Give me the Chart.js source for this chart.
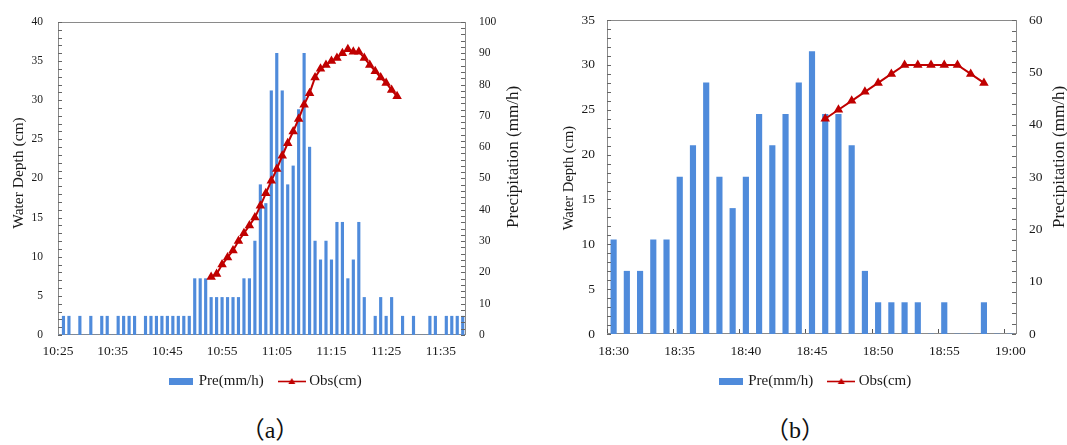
<!DOCTYPE html>
<html>
<head>
<meta charset="utf-8">
<script src="https://cdn.jsdelivr.net/npm/chart.js@4.4.0/dist/chart.umd.min.js"></script>
<style>
  html, body { margin: 0; padding: 0; background: #fff; }
  #page { position: relative; width: 1067px; height: 445px; overflow: hidden; }
  .box { position: absolute; top: 0; height: 399px; }
  #boxA { left: 0; width: 533px; }
  #boxB { left: 533px; width: 534px; }
  .cap { position: absolute; top: 414px; width: 90px; text-align: center; color: #111;
         font: 24px "Liberation Serif", "Noto Sans CJK SC", serif; line-height: 32px; }
</style>
</head>
<body>
<div id="page">
  <div class="box" id="boxA"><canvas id="chartA"></canvas></div>
  <div class="box" id="boxB"><canvas id="chartB"></canvas></div>
  <div class="cap" style="left:225px">（a）</div>
  <div class="cap" style="left:750px">（b）</div>
</div>
<script>
// ---- chart (a) ----
const timesA = [
  "10:25","10:26","10:27","10:28","10:29","10:30","10:31","10:32","10:33","10:34",
  "10:35","10:36","10:37","10:38","10:39","10:40","10:41","10:42","10:43","10:44",
  "10:45","10:46","10:47","10:48","10:49","10:50","10:51","10:52","10:53","10:54",
  "10:55","10:56","10:57","10:58","10:59","11:00","11:01","11:02","11:03","11:04",
  "11:05","11:06","11:07","11:08","11:09","11:10","11:11","11:12","11:13","11:14",
  "11:15","11:16","11:17","11:18","11:19","11:20","11:21","11:22","11:23","11:24",
  "11:25","11:26","11:27","11:28","11:29","11:30","11:31","11:32","11:33","11:34",
  "11:35","11:36","11:37","11:38","11:39"
];
const preA = [
  0, 6, 6, 0, 6, 0, 6, 0, 6, 6,
  0, 6, 6, 6, 6, 0, 6, 6, 6, 6,
  6, 6, 6, 6, 6, 18, 18, 18, 12, 12,
  12, 12, 12, 12, 18, 18, 30, 48, 42, 78,
  90, 78, 48, 54, 72, 90, 60, 30, 24, 30,
  24, 36, 36, 18, 24, 36, 12, 0, 6, 12,
  6, 12, 0, 6, 0, 6, 0, 0, 6, 6,
  0, 6, 6, 6, 6
];
const obsA = [
  null, null, null, null, null, null, null, null, null, null,
  null, null, null, null, null, null, null, null, null, null,
  null, null, null, null, null, null, null, null, 7.4, 7.8,
  9.0, 9.9, 10.8, 12.0, 13.0, 14.0, 15.0, 16.5, 18.1, 19.7,
  21.2, 22.9, 24.5, 26.0, 27.6, 29.4, 30.9, 32.9, 34.0, 34.5,
  35.0, 35.4, 36.0, 36.5, 36.2, 36.2, 35.4, 34.5, 33.7, 32.9,
  32.2, 31.3, 30.5, null, null, null, null, null, null, null,
  null, null, null, null, null
];
const ticksA = ["10:25", "10:35", "10:45", "10:55", "11:05", "11:15", "11:25", "11:35"];
const rangeA = ["10:25", "11:39:36"];

// ---- chart (b) ----
const timesB = [
  "18:30","18:31","18:32","18:33","18:34","18:35","18:36","18:37","18:38","18:39",
  "18:40","18:41","18:42","18:43","18:44","18:45","18:46","18:47","18:48","18:49",
  "18:50","18:51","18:52","18:53","18:54","18:55","18:56","18:57","18:58","18:59",
  "19:00"
];
const preB = [
  18, 12, 12, 18, 18, 30, 36, 48, 30, 24,
  30, 42, 36, 42, 48, 54, 42, 42, 36, 12,
  6, 6, 6, 6, 0, 6, 0, 0, 6, 0,
  0
];
const obsB = [
  null, null, null, null, null, null, null, null, null, null,
  null, null, null, null, null, null, 24, 25, 26, 27,
  28, 29, 30, 30, 30, 30, 30, 29, 28, null,
  null
];
const ticksB = ["18:30", "18:35", "18:40", "18:45", "18:50", "18:55", "19:00"];

Chart.defaults.font.family = '"Liberation Serif", "Times New Roman", serif';
Chart.defaults.color = "#1a1a1a";
Chart.defaults.animation = false;

const BAR = "#4f8bdb";
const RED = "#c00000";

function toMin(t) {
  const p = t.split(":").map(Number);
  return p[0] * 60 + p[1] + (p[2] || 0) / 60;
}
function fmt(v) {
  const h = Math.floor(v / 60), m = Math.round(v % 60);
  return h + ":" + String(m).padStart(2, "0");
}

// legend icons: blue box and red line with a triangle
function icon(kind) {
  const c = document.createElement("canvas");
  const g = c.getContext("2d");
  if (kind === "bar") {
    c.width = 24; c.height = 9;
    g.fillStyle = BAR;
    g.fillRect(0, 1, 24, 7);
  } else {
    c.width = 28; c.height = 9;
    g.strokeStyle = RED;
    g.lineWidth = 1.6;
    g.beginPath(); g.moveTo(0, 4.5); g.lineTo(28, 4.5); g.stroke();
    g.fillStyle = RED;
    g.beginPath(); g.moveTo(14, 1); g.lineTo(17.5, 7); g.lineTo(10.5, 7); g.closePath(); g.fill();
  }
  return c;
}
const icons = { bar: icon("bar"), line: icon("line") };

// frame, inward tick marks and axis titles reading upwards
const frame = {
  id: "frame",
  beforeDatasetsDraw(chart) {
    const { ctx, chartArea: a } = chart;
    ctx.save();
    ctx.strokeStyle = "#8a8a8a";
    ctx.lineWidth = 1;
    ctx.strokeRect(Math.round(a.left) + 0.5, Math.round(a.top) + 0.5,
                   Math.round(a.width) - 1, Math.round(a.height) - 1);
    ctx.restore();
  },
  afterDatasetsDraw(chart, args, opts) {
    const { ctx, chartArea: a } = chart;
    ctx.save();
    ctx.strokeStyle = "#555";
    ctx.lineWidth = 1;
    if (opts.xTicks) {
      const sx = chart.scales.x;
      const yb = Math.round(a.bottom) - 1;
      sx.ticks.forEach(t => {
        if (!opts.xTicks.includes(sx.getLabelForValue(t.value))) return;
        const x = Math.round(sx.getPixelForValue(t.value - 0.5)) + 0.5;
        ctx.beginPath(); ctx.moveTo(x, yb); ctx.lineTo(x, yb - 4); ctx.stroke();
      });
    }
    ctx.restore();
    ["yL", "yR"].forEach(id => {
      const s = chart.scales[id];
      const left = s.position === "left";
      const x0 = left ? Math.round(a.left) : Math.round(a.right) - 1;
      ctx.save();
      ctx.strokeStyle = "#666";
      ctx.lineWidth = 1;
      s.ticks.forEach((t, i) => {
        const y = Math.round(s.getPixelForTick(i)) + 0.5;
        ctx.beginPath();
        ctx.moveTo(x0, y);
        ctx.lineTo(x0 + (left ? 4 : -4), y);
        ctx.stroke();
      });
      const tt = s.options.title;
      const pos = opts[id];
      ctx.font = tt.font.size + "px " + Chart.defaults.font.family;
      ctx.fillStyle = "#1a1a1a";
      ctx.textAlign = "center";
      ctx.textBaseline = "middle";
      ctx.translate(pos[0], pos[1]);
      ctx.rotate(-Math.PI / 2);
      ctx.fillText(tt.text, 0, 0);
      ctx.restore();
    });
  }
};

function legendOpts() {
  return {
    position: "bottom",
    labels: {
      usePointStyle: true,
      pointStyleWidth: 20,
      padding: 18,
      font: { size: 15 },
      color: "#1a1a1a",
      sort: (a, b) => a.datasetIndex - b.datasetIndex,
      generateLabels(chart) {
        const items = Chart.defaults.plugins.legend.labels.generateLabels(chart);
        items.forEach(it => { it.pointStyle = icons[chart.data.datasets[it.datasetIndex].type]; });
        return items;
      }
    }
  };
}

function yAxis(pos, max, step, every, title, size, tsize, pad, width) {
  return {
    position: pos,
    min: 0,
    max: max,
    grid: { display: false, drawTicks: false },
    border: { display: false },
    ticks: {
      stepSize: step,
      autoSkip: false,
      padding: pad,
      font: { size: size },
      callback: v => (v % every === 0 ? v : "")
    },
    title: { display: false, text: title, font: { size: tsize } },
    afterFit: s => { s.width = width; }
  };
}

new Chart(document.getElementById("chartA"), {
  type: "bar",
  data: {
    datasets: [
      {
        type: "bar",
        label: "Pre(mm/h)",
        data: timesA.map((t, i) => ({ x: toMin(t), y: preA[i] })),
        backgroundColor: BAR,
        barThickness: 2.5,
        yAxisID: "yR",
        order: 1
      },
      {
        type: "line",
        label: "Obs(cm)",
        data: timesA.map((t, i) => ({ x: toMin(t), y: obsA[i] })),
        borderColor: RED,
        backgroundColor: RED,
        borderWidth: 2,
        pointStyle: "triangle",
        pointRadius: 3.5,
        yAxisID: "yL",
        order: 0
      }
    ]
  },
  options: {
    responsive: true,
    maintainAspectRatio: false,
    layout: { padding: { top: 8.1, left: 0, right: 0, bottom: 0 } },
    plugins: {
      legend: legendOpts(),
      tooltip: { enabled: false },
      frame: { yL: [19, 173], yR: [514, 157] }
    },
    scales: {
      x: {
        type: "linear",
        min: toMin(rangeA[0]),
        max: toMin(rangeA[1]),
        offset: false,
        grid: { display: false, drawTicks: false },
        border: { display: false },
        afterBuildTicks: s => { s.ticks = ticksA.map(t => ({ value: toMin(t) })); },
        ticks: { autoSkip: false, maxRotation: 0, padding: 8, font: { size: 13.5 }, callback: v => fmt(v) },
        afterFit: s => { s.height = 21; }
      },
      yL: yAxis("left", 40, 1, 5, "Water Depth (cm)", 11.5, 15.5, 15, 58),
      yR: yAxis("right", 100, 2, 10, "Precipitation (mm/h)", 11.5, 17, 13, 67)
    }
  },
  plugins: [frame]
});

new Chart(document.getElementById("chartB"), {
  type: "bar",
  data: {
    labels: timesB,
    datasets: [
      {
        type: "bar",
        label: "Pre(mm/h)",
        data: preB,
        backgroundColor: BAR,
        barThickness: 5.5,
        yAxisID: "yR",
        order: 1
      },
      {
        type: "line",
        label: "Obs(cm)",
        data: obsB,
        borderColor: RED,
        backgroundColor: RED,
        borderWidth: 2,
        pointStyle: "triangle",
        pointRadius: 3.5,
        yAxisID: "yL",
        order: 0
      }
    ]
  },
  options: {
    responsive: true,
    maintainAspectRatio: false,
    layout: { padding: { top: 9.9, left: 32, right: 0, bottom: 0 } },
    plugins: {
      legend: legendOpts(),
      tooltip: { enabled: false },
      frame: { yL: [36, 178], yR: [527, 157], xTicks: ticksB }
    },
    scales: {
      x: {
        offset: true,
        grid: { display: false, drawTicks: false, offset: true },
        border: { display: false },
        ticks: {
          autoSkip: false, maxRotation: 0, padding: 9, font: { size: 13.5 },
          callback: (v, i) => (ticksB.includes(timesB[i]) ? timesB[i] : "")
        },
        afterFit: s => { s.height = 22; }
      },
      yL: yAxis("left", 35, 1, 5, "Water Depth (cm)", 13.5, 14.5, 12, 42),
      yR: yAxis("right", 60, 2, 10, "Precipitation (mm/h)", 13.5, 17, 12, 50)
    }
  },
  plugins: [frame]
});
</script>
</body>
</html>
